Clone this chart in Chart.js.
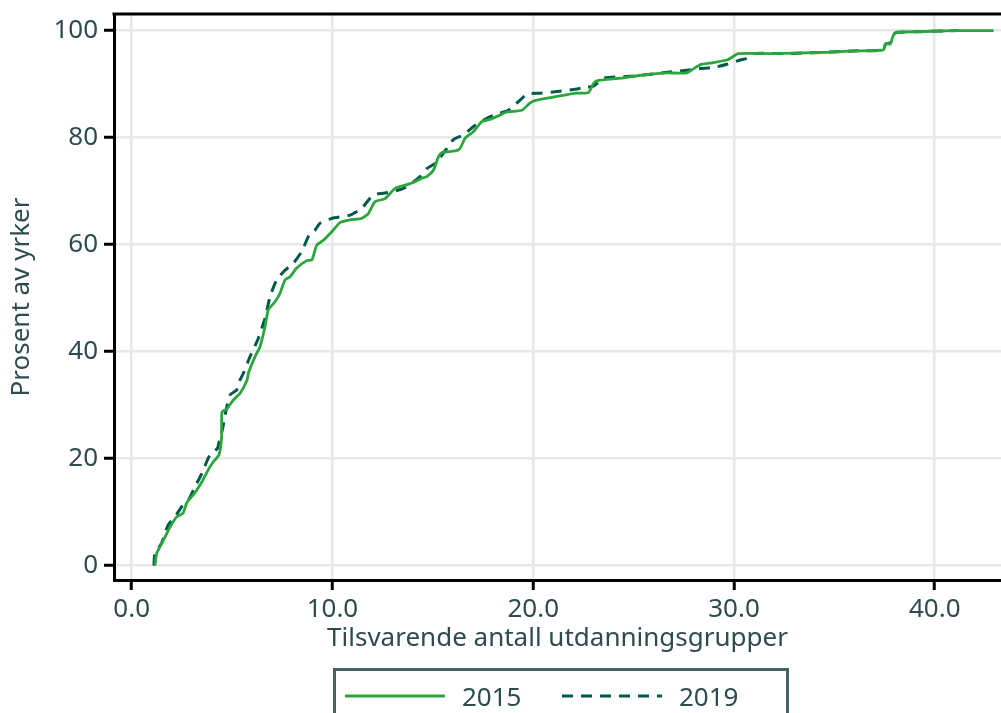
<!DOCTYPE html>
<html lang="no">
<head>
<meta charset="utf-8">
<title>Prosent av yrker</title>
<script src="https://cdn.jsdelivr.net/npm/chart.js@4"></script>
<style>
  body { margin: 0; background: #fff; font-family: 'Noto Sans', sans-serif; }
  #wrap { position: relative; width: 1001px; height: 713px; overflow: hidden; }
  #legend {
    position: absolute; left: 333px; top: 668px; width: 456px; height: 70px;
    border: 3px solid #4b6064; box-sizing: border-box;
    color: #2e4b50; font-size: 26px;
  }
  #legend .item { position: absolute; top: 7px; display: flex; align-items: center; }
  #legend svg { margin-right: 17px; }
</style>
</head>
<body>
<div id="wrap">
  <canvas id="curveChart" width="1001" height="713"></canvas>
  <div id="legend"></div>
</div>
<script>
// === Data ===
const seriesNames = ['2015', '2019'];
const xTicks = [0, 10, 20, 30, 40];
const yTicks = [0, 20, 40, 60, 80, 100];

const x2015 = [1.16, 1.25, 1.66, 1.91, 2.24, 2.56, 2.74, 3.15, 3.55, 3.80,
  4.05, 4.35, 4.48, 4.50, 4.75, 5.05, 5.40, 5.75, 5.81, 6.14,
  6.39, 6.64, 6.81, 7.14, 7.39, 7.64, 7.89, 8.22, 8.72, 8.97,
  9.22, 9.55, 10.04, 10.38, 10.88, 11.46, 11.79, 12.12, 12.62, 13.12,
  13.62, 14.03, 14.45, 14.70, 15.03, 15.28, 15.45, 16.11, 16.36, 16.61,
  17.02, 17.44, 17.85, 18.35, 18.68, 19.43, 19.85, 20.18, 21.34, 22.17,
  22.75, 23.00, 23.17, 24.33, 25.49, 26.66, 27.65, 28.31, 28.98, 29.65,
  29.81, 30.22, 31.80, 34.29, 35.95, 37.45, 37.53, 37.78, 37.95, 38.12,
  39.28, 40.94, 42.93];
const y2015 = [0, 2.3, 5.3, 7.2, 9.1, 9.8, 11.7, 13.6, 16.0, 17.8,
  19.3, 20.7, 24.1, 28.7, 29.3, 30.9, 32.2, 34.7, 35.9, 39.0,
  40.9, 44.6, 47.8, 49.3, 50.9, 53.4, 54.0, 55.6, 57.0, 57.1,
  59.9, 60.8, 62.7, 64.1, 64.6, 64.9, 65.8, 68.0, 68.6, 70.5,
  71.1, 71.6, 72.4, 72.7, 73.9, 76.4, 77.2, 77.5, 78.0, 79.9,
  81.1, 83.0, 83.4, 84.2, 84.8, 85.1, 86.5, 87.0, 87.8, 88.3,
  88.4, 90.1, 90.6, 91.1, 91.7, 92.1, 92.1, 93.6, 94.0, 94.5,
  94.8, 95.7, 95.7, 95.9, 96.2, 96.4, 97.5, 97.5, 99.2, 99.7,
  99.8, 100, 100];

const x2019 = [1.11, 1.16, 1.49, 1.82, 2.16, 2.49, 2.82, 3.15, 3.49, 3.90,
  4.27, 4.40, 4.53, 4.65, 4.90, 5.23, 5.36, 5.56, 5.89, 6.31,
  6.64, 6.89, 7.22, 7.64, 8.05, 8.47, 8.88, 9.13, 9.38, 9.97,
  10.88, 11.46, 12.04, 12.54, 13.03, 13.53, 14.03, 14.36, 14.70, 15.11,
  15.45, 15.70, 16.02, 16.52, 17.11, 17.69, 18.19, 18.76, 19.35, 19.68,
  20.34, 21.18, 21.84, 22.67, 23.00, 23.50, 24.66, 25.49, 26.66, 27.65,
  28.31, 28.98, 29.65, 30.31, 30.64, 30.97, 32.50, 34.29, 35.95, 37.45,
  37.55, 37.80, 37.95, 38.15, 39.30, 41.20];
const y2019 = [0, 2.3, 4.2, 7.6, 9.1, 11.0, 12.2, 14.7, 17.2, 20.7,
  21.9, 23.8, 25.6, 28.1, 31.9, 32.8, 34.4, 35.9, 39.0, 42.5,
  46.2, 50.2, 53.4, 55.2, 56.5, 58.7, 62.1, 62.7, 64.0, 64.9,
  65.5, 66.8, 69.3, 69.6, 69.9, 70.5, 71.7, 72.7, 74.2, 75.2,
  76.7, 78.0, 79.6, 80.5, 82.3, 83.6, 84.4, 85.1, 87.0, 88.1,
  88.3, 88.6, 88.9, 89.4, 89.6, 91.1, 91.4, 91.7, 92.2, 92.6,
  92.9, 93.1, 93.7, 94.5, 94.8, 95.7, 95.7, 95.9, 96.2, 96.4,
  97.5, 97.7, 99.3, 99.7, 99.8, 100];

// === Styling ===
const textColor = '#2e4b50';
const gridColor = '#e4e9e8';
const lineColors = ['#2aa63d', '#00594a'];
const dashPattern = [11, 8];
const font = { family: "'Noto Sans', sans-serif", size: 26 };

const toPoints = (xs, ys) => xs.map((x, i) => ({ x: x, y: ys[i] }));

// top edge of the plot frame
const topBorder = {
  id: 'topBorder',
  beforeDatasetsDraw(chart) {
    const { ctx, chartArea } = chart;
    ctx.save();
    ctx.strokeStyle = '#000';
    ctx.lineWidth = 3;
    ctx.beginPath();
    ctx.moveTo(chartArea.left - 1.5, chartArea.top);
    ctx.lineTo(chartArea.right, chartArea.top);
    ctx.stroke();
    ctx.restore();
  }
};

new Chart(document.getElementById('curveChart'), {
  type: 'line',
  data: {
    datasets: [
      {
        label: seriesNames[0],
        data: toPoints(x2015, y2015),
        borderColor: lineColors[0],
        borderWidth: 2.8,
        pointRadius: 0,
        tension: 0.2
      },
      {
        label: seriesNames[1],
        data: toPoints(x2019, y2019),
        borderColor: lineColors[1],
        borderWidth: 3,
        borderDash: dashPattern,
        pointRadius: 0,
        tension: 0.2
      }
    ]
  },
  options: {
    responsive: false,
    animation: false,
    layout: { padding: { top: 14, right: 0, bottom: 0, left: 0 } },
    plugins: { legend: { display: false }, tooltip: { enabled: false } },
    scales: {
      x: {
        type: 'linear',
        min: -0.88,
        max: 43.3,
        afterFit: s => { s.height = 133; s.paddingLeft = 0; s.paddingRight = 0; },
        afterBuildTicks: s => { s.ticks = xTicks.map(v => ({ value: v })); },
        ticks: { color: textColor, font: font, padding: 4, maxRotation: 0,
          callback: v => v.toFixed(1) },
        grid: { color: gridColor, lineWidth: 2.5, tickColor: '#000', tickWidth: 3, tickLength: 10 },
        border: { color: '#000', width: 3 },
        title: { display: true, text: 'Tilsvarende antall utdanningsgrupper',
          color: textColor, font: font, padding: { top: 0, bottom: 59 } }
      },
      y: {
        min: -2.7,
        max: 103.1,
        afterFit: s => { s.width = 114; s.paddingTop = 0; s.paddingBottom = 0; },
        afterBuildTicks: s => { s.ticks = yTicks.map(v => ({ value: v })); },
        ticks: { color: textColor, font: font, padding: 6, callback: v => String(v) },
        grid: { color: gridColor, lineWidth: 2.5, tickColor: '#000', tickWidth: 3, tickLength: 10 },
        border: { color: '#000', width: 3 },
        title: { display: true, text: 'Prosent av yrker',
          color: textColor, font: font, padding: { top: 6, bottom: 0 } }
      }
    }
  },
  plugins: [topBorder]
});

// === Legend (HTML, below the plot) ===
const legend = document.getElementById('legend');
const itemLeft = [9, 226];
seriesNames.forEach((name, i) => {
  const item = document.createElement('div');
  item.className = 'item';
  item.style.left = itemLeft[i] + 'px';
  const dash = i === 1 ? `stroke-dasharray="${dashPattern.join(' ')}"` : '';
  item.innerHTML = `<svg width="100" height="30"><line x1="0" y1="15" x2="100" y2="15"
    stroke="${lineColors[i]}" stroke-width="3" ${dash}/></svg><span>${name}</span>`;
  legend.appendChild(item);
});
</script>
</body>
</html>
